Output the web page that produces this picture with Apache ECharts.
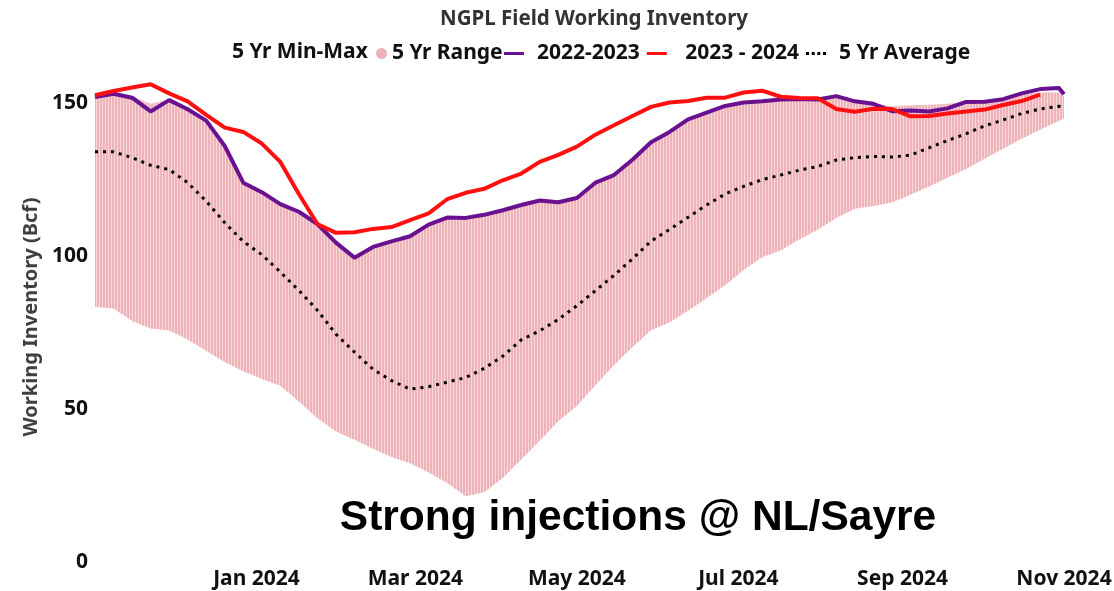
<!DOCTYPE html>
<html>
<head>
<meta charset="utf-8">
<script src="https://cdn.jsdelivr.net/npm/echarts@6/dist/echarts.min.js"></script>
<style>
html, body { margin: 0; padding: 0; background: #fff; }
#chart { width: 1114px; height: 591px; }
</style>
</head>
<body>
<div id="chart"></div>
<script>
// weekly samples, Nov 2023 - Nov 2024
var weekDates = [
    '2023-11-01', '2023-11-08', '2023-11-15', '2023-11-22', '2023-11-29', '2023-12-06', '2023-12-13', '2023-12-20', '2023-12-27',
    '2024-01-03', '2024-01-10', '2024-01-17', '2024-01-24', '2024-01-31', '2024-02-07', '2024-02-14', '2024-02-21', '2024-02-28',
    '2024-03-06', '2024-03-13', '2024-03-20', '2024-03-27', '2024-04-03', '2024-04-10', '2024-04-17', '2024-04-24',
    '2024-05-01', '2024-05-08', '2024-05-15', '2024-05-22', '2024-05-29', '2024-06-05', '2024-06-12', '2024-06-19', '2024-06-26',
    '2024-07-03', '2024-07-10', '2024-07-17', '2024-07-24', '2024-07-31', '2024-08-07', '2024-08-14', '2024-08-21', '2024-08-28',
    '2024-09-04', '2024-09-11', '2024-09-18', '2024-09-25', '2024-10-02', '2024-10-09', '2024-10-16', '2024-10-23', '2024-10-30',
    '2024-11-01'
];
var minVals = [83.4, 82.9, 78.8, 76.3, 75.7, 72.7, 69.0, 65.4, 62.4, 59.8, 57.6, 52.5, 47.0, 42.7, 40.0, 37.0, 34.3, 32.3,
    29.3, 25.8, 21.5, 22.8, 27.5, 33.5, 39.6, 46.0, 51.0, 57.8, 64.3, 70.2, 75.8, 78.3, 82.1, 86.2, 90.5, 95.5, 99.6, 101.8,
    105.4, 108.6, 112.5, 115.5, 116.4, 117.5, 120.1, 122.8, 125.6, 128.5, 131.8, 135.1, 138.4, 141.3, 144.2, 145.0];
var maxVals = [152.5, 153.3, 152.3, 149.8, 151.2, 148.5, 144.5, 136.2, 124.2, 121.0, 117.2, 114.7, 110.7, 104.6, 99.7, 103.2,
    105.0, 106.7, 110.5, 112.8, 112.7, 113.7, 115.2, 116.9, 118.4, 117.8, 119.2, 124.2, 126.7, 131.7, 137.4, 140.8, 144.9,
    147.1, 149.3, 150.4, 150.8, 151.4, 151.6, 151.4, 152.5, 150.8, 150.0, 149.0, 149.3, 149.5, 149.8, 150.4, 150.5, 151.3,
    152.8, 153.5, 153.5, 152.3];
var avgVals = [134.1, 134.1, 132.2, 129.7, 128.3, 124.0, 118.0, 110.9, 104.8, 100.5, 94.8, 88.8, 82.3, 74.5, 68.6, 63.0,
    59.3, 56.5, 57.3, 58.8, 60.3, 63.3, 67.3, 72.6, 75.6, 79.3, 83.8, 88.7, 93.7, 99.1, 104.9, 108.7, 112.7, 116.7, 120.3,
    122.8, 125.0, 126.5, 128.1, 129.3, 131.4, 132.2, 132.6, 132.4, 133.0, 135.4, 137.8, 140.0, 142.6, 144.5, 146.6, 148.1,
    149.0, 148.3];
var vals2223 = [152.0, 153.1, 151.8, 147.3, 151.0, 148.0, 144.3, 136.0, 124.0, 120.9, 117.0, 114.5, 110.5, 104.4, 99.5,
    103.0, 104.8, 106.5, 110.3, 112.6, 112.5, 113.5, 115.0, 116.7, 118.2, 117.6, 119.0, 124.0, 126.5, 131.5, 137.2, 140.6,
    144.7, 146.9, 149.1, 150.2, 150.6, 151.2, 151.4, 151.2, 152.3, 150.6, 149.8, 147.4, 147.6, 147.3, 148.3, 150.4, 150.5,
    151.3, 153.2, 154.6, 155.0, 152.9];
var vals2324 = [152.6, 154.0, 155.1, 156.2, 153.2, 150.6, 146.2, 142.0, 140.6, 136.8, 130.8, 120.3, 110.5, 107.6, 107.8,
    108.9, 109.5, 111.8, 114.0, 118.6, 120.7, 122.0, 124.8, 127.0, 130.8, 133.1, 135.8, 139.7, 142.8, 145.8, 148.8, 150.2,
    150.7, 151.8, 151.8, 153.5, 154.1, 152.1, 151.7, 151.6, 148.1, 147.2, 148.2, 148.1, 145.7, 145.8, 146.6, 147.3, 147.9,
    149.4, 150.7, 152.8];

var axisStart = '2023-11-01';
var axisEnd = '2024-11-01';
var tickDates = ['2024-01-01', '2024-03-01', '2024-05-01', '2024-07-01', '2024-09-01', '2024-11-01'];
var monthNames = ['Jan', 'Feb', 'Mar', 'Apr', 'May', 'Jun', 'Jul', 'Aug', 'Sep', 'Oct', 'Nov', 'Dec'];

var FONT = '"Noto Sans", sans-serif';
var PINK = '#eeb2b9';

function toTime(s) {
    return +new Date(s + 'T00:00:00');
}
function pairs(vals) {
    return vals.map(function (v, i) {
        return [toTime(weekDates[i]), v];
    });
}

var chart = echarts.init(document.getElementById('chart'));
var option = {
    animation: false,
    title: {
        text: 'NGPL Field Working Inventory',
        left: 589,
        textAlign: 'center',
        top: 4,
        textStyle: { fontFamily: FONT, fontSize: 20.5, fontWeight: 'bold', color: '#333' }
    },
    legend: [{
        top: 43,
        left: 376,
        padding: 0,
        itemWidth: 11,
        itemHeight: 11,
        itemStyle: { decal: 'none' },
        textStyle: { fontFamily: FONT, fontSize: 21, fontWeight: 'bold', color: '#111' },
        data: [{ name: '5 Yr Range', icon: 'circle' }]
    }, {
        top: 43,
        left: 504,
        padding: 0,
        itemGap: 7,
        itemWidth: 20,
        itemHeight: 3,
        textStyle: { fontFamily: FONT, fontSize: 21, fontWeight: 'bold', color: '#111', padding: [0, 0, 0, 8] },
        data: [
            { name: '2022-2023', icon: 'rect' },
            { name: ' 2023 - 2024', icon: 'rect' },
            { name: '5 Yr Average', icon: 'path://M0,0h3v3h-3zM5.67,0h3v3h-3zM11.33,0h3v3h-3zM17,0h3v3h-3z' }
        ]
    }],
    grid: {
        left: 95,
        right: 50,
        top: 42,
        bottom: 29,
        outerBoundsMode: 'none'
    },
    xAxis: {
        type: 'value',
        min: toTime(axisStart),
        max: toTime(axisEnd),
        splitLine: { show: false },
        axisLine: { show: false },
        axisTick: { show: false },
        axisLabel: {
            customValues: tickDates.map(toTime),
            formatter: function (v) {
                var d = new Date(v);
                return monthNames[d.getMonth()] + ' ' + d.getFullYear();
            },
            margin: 7,
            fontFamily: FONT,
            fontSize: 21,
            fontWeight: 'bold',
            color: '#111'
        }
    },
    yAxis: {
        type: 'value',
        min: 0,
        max: 170,
        interval: 50,
        splitLine: { show: false },
        axisLine: { show: false },
        axisTick: { show: false },
        axisLabel: {
            showMaxLabel: false,
            margin: 7,
            fontFamily: FONT,
            fontSize: 21,
            fontWeight: 'bold',
            color: '#111'
        },
        name: 'Working Inventory (Bcf)',
        nameLocation: 'middle',
        nameGap: 52,
        nameTextStyle: {
            fontFamily: FONT, fontSize: 20, fontWeight: 'bold', color: '#404040',
            padding: [0, 30, 0, 0]
        }
    },
    graphic: [{
        type: 'text',
        x: 232,
        y: 52,
        z: 100,
        style: { text: '5 Yr Min-Max', font: 'bold 21px ' + FONT, fill: '#111', verticalAlign: 'middle' }
    }, {
        type: 'text',
        x: 638,
        y: 518,
        z: 100,
        style: {
            text: 'Strong injections @ NL/Sayre',
            font: 'bold 42.5px "Liberation Sans", Arial, sans-serif',
            fill: '#000',
            align: 'center',
            verticalAlign: 'middle'
        }
    }],
    series: [{
        // pink band: max filled down to the axis, then min painted back to white
        name: '5 Yr Range',
        type: 'line',
        symbol: 'none',
        color: PINK,
        itemStyle: {
            color: PINK,
            decal: {
                symbol: 'rect',
                symbolSize: 1,
                dashArrayX: [1, 2],
                dashArrayY: [4, 0],
                color: 'rgba(255,255,255,0.5)'
            }
        },
        lineStyle: { width: 0 },
        areaStyle: { color: PINK, opacity: 1 },
        data: pairs(maxVals),
        z: 1
    }, {
        name: 'min',
        type: 'line',
        symbol: 'none',
        color: '#fff',
        lineStyle: { width: 0 },
        areaStyle: { color: '#fff', opacity: 1 },
        data: pairs(minVals),
        z: 2
    }, {
        name: '5 Yr Average',
        type: 'line',
        symbol: 'none',
        color: '#000',
        lineStyle: { width: 3, type: [3, 5], color: '#000' },
        data: pairs(avgVals),
        z: 3
    }, {
        name: '2022-2023',
        type: 'line',
        symbol: 'none',
        color: '#6a1191',
        lineStyle: { width: 4, color: '#6a1191' },
        data: pairs(vals2223),
        z: 4
    }, {
        name: ' 2023 - 2024',
        type: 'line',
        symbol: 'none',
        color: '#ff1010',
        lineStyle: { width: 4, color: '#ff1010' },
        data: pairs(vals2324),
        z: 5
    }]
};
chart.setOption(option);
</script>
</body>
</html>
